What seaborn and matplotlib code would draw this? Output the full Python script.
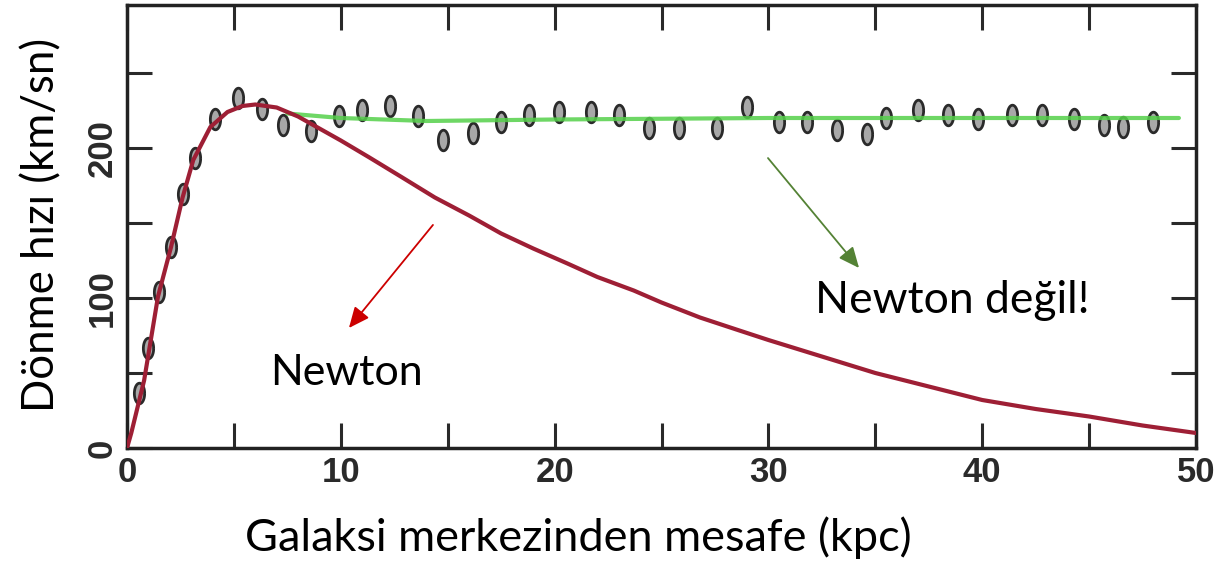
import numpy as np
import pandas as pd
import matplotlib
matplotlib.use("Agg")
import matplotlib.pyplot as plt
import seaborn as sns

# observed rotation curve points (kpc, km/s)
obs_r = [0.56, 1.0, 1.5, 2.06, 2.6, 3.2, 4.1, 5.2, 6.3, 7.3, 8.6,
         9.9, 11.0, 12.3, 13.6, 14.8, 16.2, 17.5, 18.8, 20.2, 21.7, 23.0,
         24.4, 25.8, 27.6, 29.0, 30.5, 31.8, 33.2, 34.6, 35.5, 37.0, 38.4,
         39.8, 41.4, 42.8, 44.3, 45.7, 46.6, 48.0]
obs_v = [37, 67, 104, 134, 169, 193, 219, 233, 226, 215, 211,
         221, 225, 228, 221, 205, 210, 217, 222, 224, 224, 222,
         213, 213, 213, 227, 217, 217, 212, 209, 220, 225, 222,
         219, 222, 222, 219, 215, 214, 217]

# Newtonian (keplerian) prediction
newton_r = [0, 0.2, 0.8, 1.45, 2.06, 2.6, 3.1, 3.9, 4.7, 5.4, 6.0, 7.0, 8.0, 9.0,
            10.0, 11.3, 12.8, 14.4, 16.0, 17.5, 19.0, 20.6, 22.0, 23.7, 25.0,
            26.8, 28.5, 30.0, 32.5, 35.0, 37.5, 40.0, 42.5, 45.0, 47.5, 50.0]
newton_v = [0, 10, 45, 101, 134, 167, 192, 214, 224, 228, 229, 227, 221, 213,
            205, 194, 181, 167, 155, 143, 133, 123, 114, 105, 97,
            87, 79, 72, 61, 50, 41, 32, 26, 21, 15, 10]

# flat fit (not Newton)
flat_r = [7.5, 10, 14, 20, 30, 40, 49.2]
flat_v = [223, 220, 218, 219, 220, 220, 220]

x_ticks = [0, 5, 10, 15, 20, 25, 30, 35, 40, 45, 50]
x_labels = ["0", "", "10", "", "20", "", "30", "", "40", "", "50"]
y_ticks = [0, 50, 100, 150, 200, 250]
y_labels = ["0", "", "100", "", "200", ""]

sns.set_theme(style="white")
plt.rcParams["font.family"] = ["Lato", "DejaVu Sans"]

W, H = 1224, 566
fig = plt.figure(figsize=(W / 100, H / 100), dpi=100)
ax = fig.add_axes([127 / W, 1 - 448 / H, (1196 - 127) / W, (448 - 5) / H])

# ellipse marker shape
t = np.linspace(0, 2 * np.pi, 40)
oval = list(zip(0.5 * np.cos(t), np.sin(t)))

obs = pd.DataFrame({"r": obs_r, "v": obs_v})
sns.scatterplot(data=obs, x="r", y="v", marker=oval, s=220, color="#a8a8a8",
                edgecolor="#2a2a2a", linewidth=2, ax=ax, zorder=2)

flat = pd.DataFrame({"r": flat_r, "v": flat_v})
sns.lineplot(data=flat, x="r", y="v", color="#55d04a", linewidth=3, alpha=0.85,
             ax=ax, zorder=3)

newton = pd.DataFrame({"r": newton_r, "v": newton_v})
sns.lineplot(data=newton, x="r", y="v", color="#9e1f35", linewidth=3, ax=ax,
             zorder=4)

ax.set_xlim(0, 50)
ax.set_ylim(0, 443 / 1.5)
ax.set_xticks(x_ticks)
ax.set_xticklabels(x_labels, family="Liberation Sans", weight="bold")
ax.set_yticks(y_ticks)
ax.set_yticklabels(y_labels, family="Liberation Sans", weight="bold",
                   rotation=90, va="center")
ax.set_xlabel("")
ax.set_ylabel("")
ax.tick_params(direction="in", length=18, width=2.2, top=True, right=True,
               bottom=True, left=True, labelsize=25, colors="#2a2a2a", pad=6)
for sp in ax.spines.values():
    sp.set_linewidth(2.5)
    sp.set_color("#222222")

# arrows
head = "-|>,head_length=0.45,head_width=0.2"
ax.annotate("", xy=(10.38, 80), xytext=(14.31, 148.7),
            arrowprops=dict(arrowstyle=head, color="#cc0000", lw=1.3,
                            mutation_scale=28, shrinkA=0, shrinkB=0))
ax.annotate("", xy=(34.24, 120), xytext=(29.98, 193.3),
            arrowprops=dict(arrowstyle=head, color="#548235", lw=1.3,
                            mutation_scale=28, shrinkA=0, shrinkB=0))

fig.text(270 / W, 1 - 385 / H, "Newton", fontsize=31, color="black",
         ha="left", va="baseline")
fig.text(815 / W, 1 - 313 / H, "Newton değil!", fontsize=32, color="black",
         ha="left", va="baseline")
fig.text(578 / W, 1 - 551 / H, "Galaksi merkezinden mesafe (kpc)", fontsize=32.5,
         color="black", ha="center", va="baseline")
fig.text(42 / W, 1 - 225 / H, "Dönme hızı (km/sn)", fontsize=31.5, color="black",
         rotation=90, ha="center", va="center")

fig.savefig("out.png", dpi=100)
